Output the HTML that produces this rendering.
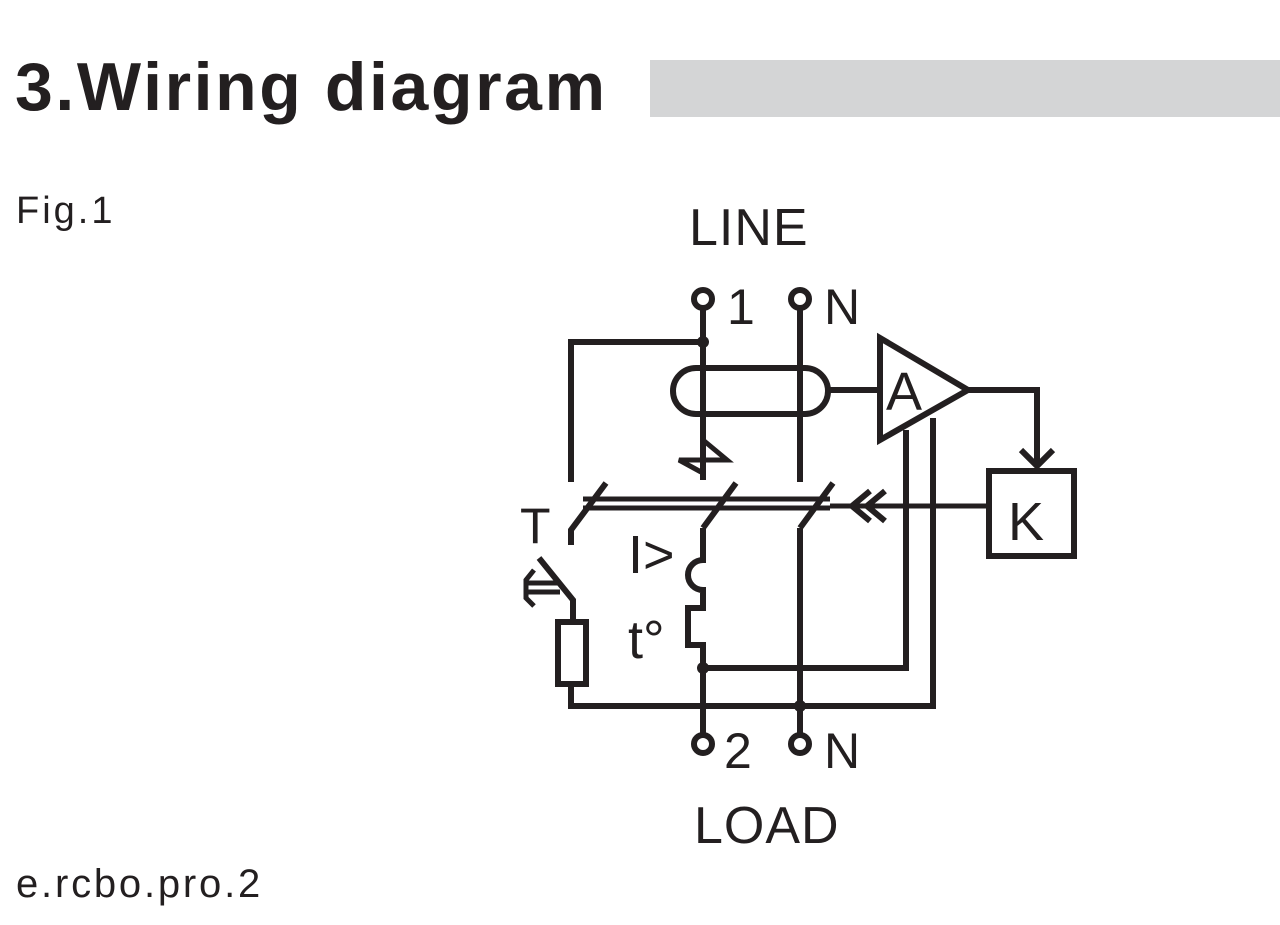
<!DOCTYPE html>
<html><head><meta charset="utf-8"><style>
body{margin:0;width:1280px;height:925px;background:#fff;overflow:hidden;position:relative;font-family:"Liberation Sans",sans-serif;color:#231f20}
.t{position:absolute;white-space:nowrap}
</style></head><body>
<div class="t" style="left:15px;top:48px;font-size:68px;font-weight:bold;letter-spacing:2.6px">3.Wiring diagram</div>
<div style="position:absolute;left:650px;top:60px;width:630px;height:57px;background:#d4d5d6"></div>
<div class="t" style="left:16px;top:190px;font-size:38px;letter-spacing:3px">Fig.1</div>
<div class="t" style="left:16px;top:862px;font-size:40px;letter-spacing:2.8px">e.rcbo.pro.2</div>
<svg width="1280" height="925" style="position:absolute;left:0;top:0" font-family="Liberation Sans, sans-serif" fill="none" stroke="#231f20" stroke-width="6">
<g fill="#231f20" stroke="none" font-size="50">
<text x="689" y="245" font-size="52" letter-spacing="1">LINE</text>
<text x="694" y="843" font-size="52" letter-spacing="1">LOAD</text>
<text x="727" y="324">1</text>
<text x="824" y="324">N</text>
<text x="724" y="768">2</text>
<text x="824" y="768">N</text>
<text x="886" y="410" font-size="54">A</text>
<text x="1008" y="540" font-size="54">K</text>
<text x="520" y="543">T</text>
<text x="628" y="573" font-size="54">I&gt;</text>
<text x="628" y="658" font-size="54">t°</text>
<circle cx="703" cy="342" r="6"/><circle cx="703" cy="668" r="6"/><circle cx="800" cy="706" r="6"/>
</g>
<circle cx="703" cy="299" r="9" fill="#fff"/><circle cx="800" cy="299" r="9" fill="#fff"/>
<circle cx="703" cy="744" r="9" fill="#fff"/><circle cx="800" cy="744" r="9" fill="#fff"/>
<path d="M703 308V480M800 308V482"/>
<path d="M571 482V342H703"/>
<rect x="673" y="368" width="155" height="46" rx="23"/>
<path d="M828 390H880"/>
<path d="M880 338L880 440L968 390Z"/>
<path d="M968 390H1037V466"/>
<path d="M1021 450L1037 466L1053 450"/>
<rect x="989" y="471" width="85" height="85"/>
<path d="M703 440L727 460H679L701 472" stroke-width="5"/>
<path d="M571 545V530L606 483"/>
<path d="M703 528L736 483"/>
<path d="M800 528L833 483"/>
<path d="M583 499H830M583 508H830M830 506H989" stroke-width="5"/>
<path d="M870 491L852 506L870 521M885 491L867 506L885 521"/>
<path d="M703 528V560A14 14 0 0 0 703 590V608H688V645H703V736"/>
<path d="M800 528V736"/>
<path d="M703 668H906V430M571 684V706H933V418"/>
<path d="M539 558L573 600V622"/>
<rect x="558" y="622" width="28" height="62"/>
<path d="M526 583H560M526 592H560" stroke-width="5"/>
<path d="M534 570L526 580V598L534 606" stroke-width="5"/>
</svg>
</body></html>
